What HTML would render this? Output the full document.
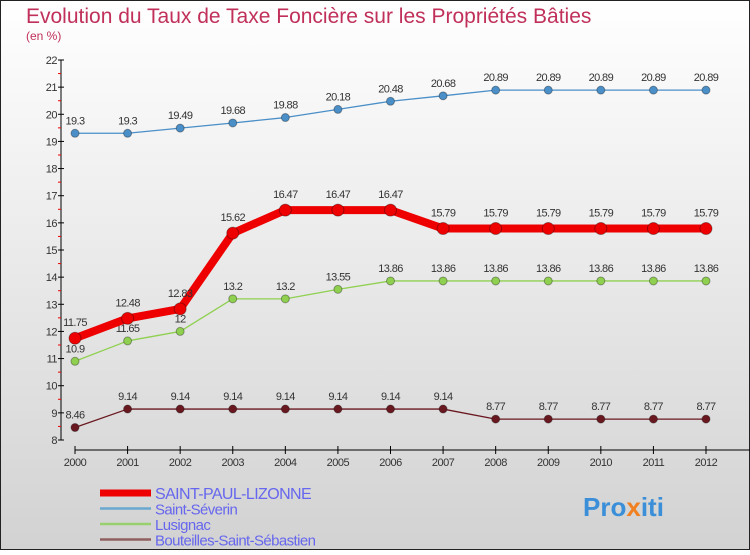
<!DOCTYPE html>
<html><head><meta charset="utf-8"><style>
html,body{margin:0;padding:0}
body{width:750px;height:550px;overflow:hidden;font-family:"Liberation Sans",sans-serif}
</style></head><body>
<svg width="750" height="550" xmlns="http://www.w3.org/2000/svg">
<defs><linearGradient id="bg" x1="0" y1="0" x2="0" y2="1"><stop offset="0" stop-color="#ffffff"/><stop offset="1" stop-color="#d2d2d2"/></linearGradient></defs>
<rect x="0.5" y="0.5" width="749" height="549" fill="url(#bg)" stroke="#222"/>
<text x="26" y="23" font-size="21" fill="#c0305a">Evolution du Taux de Taxe Foncière sur les Propriétés Bâties</text>
<text x="26" y="40" font-size="12" fill="#c0305a">(en %)</text>
<g id="axes"></g>
<g id="series"></g>
<g id="legend"></g>
<text x="583" y="516" font-size="26" font-weight="bold" fill="#3a8fd8">Pro<tspan fill="#f08020">x</tspan>iti</text>
</svg>
<script>
const years=[2000,2001,2002,2003,2004,2005,2006,2007,2008,2009,2010,2011,2012];
const yTicks=[8,9,10,11,12,13,14,15,16,17,18,19,20,21,22];
const saintPaul=[11.75,12.48,12.83,15.62,16.47,16.47,16.47,15.79,15.79,15.79,15.79,15.79,15.79];
const saintSeverin=[19.3,19.3,19.49,19.68,19.88,20.18,20.48,20.68,20.89,20.89,20.89,20.89,20.89];
const lusignac=[10.9,11.65,12,13.2,13.2,13.55,13.86,13.86,13.86,13.86,13.86,13.86,13.86];
const bouteilles=[8.46,9.14,9.14,9.14,9.14,9.14,9.14,9.14,8.77,8.77,8.77,8.77,8.77];
const NS="http://www.w3.org/2000/svg";
const xs=i=>75+i*(706-75)/12;
const ys=v=>440-(v-8)*(380/14);
function mk(tag,attrs,parent){const e=document.createElementNS(NS,tag);for(const k in attrs)e.setAttribute(k,attrs[k]);parent.appendChild(e);return e;}
const ax=document.getElementById('axes');
let yl=mk('line',{x1:61,y1:60,x2:61,y2:440,stroke:'#000'},ax);


yTicks.forEach(t=>{
  const y=ys(t);
  let l=mk('line',{x1:58,y1:y,x2:64,y2:y,stroke:'#000'},ax);
  
  
  if(t<22){let r=mk('line',{x1:58,y1:y-13.57,x2:61,y2:y-13.57,stroke:'#e00'},ax);
  
  }
  let tx=mk('text',{x:57,y:y+4,'text-anchor':'end','font-size':11,fill:'#333','letter-spacing':'-0.5'},ax);
  tx.textContent=t;
  
  
});
let xl=mk('line',{x1:75,y1:450,x2:750,y2:450,stroke:'#000'},ax);


years.forEach((yr,i)=>{
  const x=xs(i);
  let l=mk('line',{x1:x,y1:446,x2:x,y2:454,stroke:'#000'},ax);
  
  
  let tx=mk('text',{x:x,y:466,'text-anchor':'middle','font-size':11,fill:'#333','letter-spacing':'-0.5'},ax);
  tx.textContent=yr;
  
  
});
const sg=document.getElementById('series');
function series(vals,color,w,r,name,lblOff){
  const g=mk('g',{},sg);
  
  
  let p=mk('polyline',{points:vals.map((v,i)=>xs(i)+','+ys(v)).join(' '),fill:'none',stroke:color,'stroke-width':w,'stroke-linejoin':'round'},g);
  
  
  vals.forEach((v,i)=>{
    let c=mk('circle',{cx:xs(i),cy:ys(v),r:r,fill:color,stroke:'#00000055','stroke-width':1},g);
    
    
    let t=mk('text',{x:xs(i),y:ys(v)-lblOff,'text-anchor':'middle','font-size':11,fill:'#333','letter-spacing':'-0.6'},g);
    t.textContent=v;
    
    
  });
}
series(saintSeverin,'#4a8fc8',1.3,4,'saint-severin',9);
series(lusignac,'#8fd050',1.3,4,'lusignac',9);
series(bouteilles,'#6a1820',1.3,4,'bouteilles',9);
series(saintPaul,'#ee0000',8,6,'saint-paul-lizonne',12);
const lg=document.getElementById('legend');
const leg=[['SAINT-PAUL-LIZONNE','#ee0000',7],['Saint-Séverin','#6aa8d0',2.5],['Lusignac','#98d070',2.5],['Bouteilles-Saint-Sébastien','#906060',2.5]];
leg.forEach((d,i)=>{
  const y=493+i*15.5;
  let l=mk('line',{x1:100,y1:y,x2:151,y2:y,stroke:d[1],'stroke-width':d[2]},lg);
  
  
  let t=mk('text',{x:155,y:y+6,'font-size':i==0?16:15,fill:'#6666ee','letter-spacing':'-0.6'},lg);
  t.textContent=d[0];
  
  
});
</script>
</body></html>
